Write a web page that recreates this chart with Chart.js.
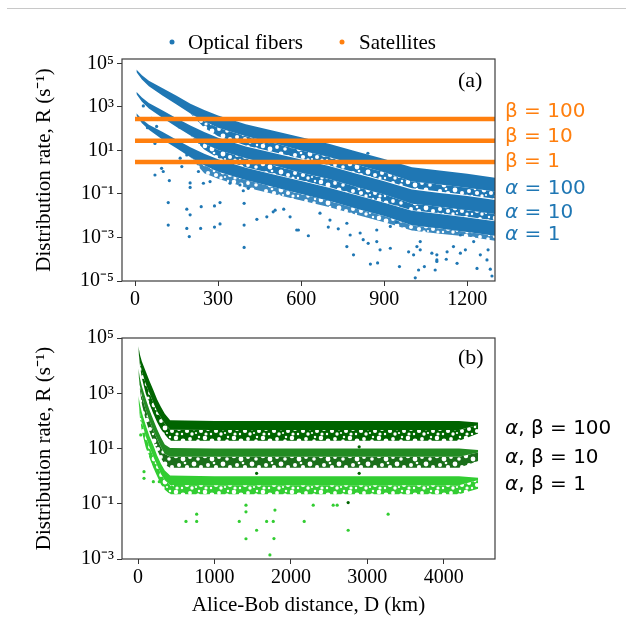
<!DOCTYPE html>
<html><head><meta charset="utf-8">
<script src="https://cdn.jsdelivr.net/npm/chart.js@4.4.1/dist/chart.umd.min.js"></script>
<style>
body{margin:0;background:#fff;}
#wrap{position:relative;width:626px;height:633px;overflow:hidden;background:#fff;}
canvas{position:absolute;left:0;}
.lab{position:absolute;font-family:"DejaVu Sans";font-size:20px;white-space:pre;line-height:24px;transform:translateY(-50%);}
.ser{position:absolute;font-family:"Liberation Serif";white-space:pre;line-height:26px;transform:translateY(-50%);color:#000;}
.dot{position:absolute;width:5px;height:5px;border-radius:50%;transform:translate(-50%,-50%);}
</style></head>
<body>
<div id="wrap">
  <div style="position:absolute;left:7px;top:8px;width:619px;height:1px;background:#c8c8c8"></div>
  <canvas id="ca" width="626" height="312" style="top:0"></canvas>
  <canvas id="cb" width="626" height="323" style="top:310px"></canvas>
  <!-- legend -->
  <div class="dot" style="left:172px;top:42px;background:#1f77b4"></div>
  <div class="ser" style="left:188px;top:42px;font-size:21px">Optical fibers</div>
  <div class="dot" style="left:342px;top:42px;background:#ff7f0e"></div>
  <div class="ser" style="left:359px;top:42px;font-size:21px">Satellites</div>
  <!-- panel tags -->
  <div class="ser" style="left:458px;top:80px;font-size:22px">(a)</div>
  <div class="ser" style="left:458px;top:357px;font-size:22px">(b)</div>
  <!-- right-hand series labels -->
  <div class="lab" style="left:505px;top:110px;color:#ff7f0e">β = 100</div>
  <div class="lab" style="left:505px;top:135px;color:#ff7f0e">β = 10</div>
  <div class="lab" style="left:505px;top:160px;color:#ff7f0e">β = 1</div>
  <div class="lab" style="left:505px;top:187px;color:#1f77b4"><i>α</i> = 100</div>
  <div class="lab" style="left:505px;top:211px;color:#1f77b4"><i>α</i> = 10</div>
  <div class="lab" style="left:505px;top:233px;color:#1f77b4"><i>α</i> = 1</div>
  <div class="lab" style="left:505px;top:427px;color:#000"><i>α</i>, β = 100</div>
  <div class="lab" style="left:505px;top:456px;color:#000"><i>α</i>, β = 10</div>
  <div class="lab" style="left:505px;top:483px;color:#000"><i>α</i>, β = 1</div>
</div>
<script>
// ---------------- Panel (a): optical fibers vs satellites ----------------
const fiberX        = [5, 25, 50, 100, 150, 200, 250, 300, 400, 500, 600, 700, 800, 900, 1000, 1100, 1200, 1300];
const alpha100Top   = [5.2e4, 2.8e4, 1.6e4, 7.1e3, 3.2e3, 1.4e3, 710, 400, 160, 79, 40, 20, 8.9, 4.0, 1.7, 1.2, 0.85, 0.56];
const alpha100Core  = [4.0e4, 1.8e4, 8.9e3, 3.2e3, 1.3e3, 500, 220, 110, 45, 22, 10, 5.0, 2.2, 1.0, 0.37, 0.27, 0.19, 0.13];
const alpha100Fringe= [4.0e4, 1.8e4, 8.9e3, 3.2e3, 1.3e3, 500, 110, 45, 17, 8.5, 4.2, 2.1, 0.95, 0.42, 0.18, 0.13, 0.09, 0.06];
const alpha10Top    = [5.0e3, 2.7e3, 1.5e3, 680, 300, 140, 70, 38, 15, 7.6, 3.8, 1.9, 0.85, 0.38, 0.16, 0.11, 0.08, 0.053];
const alpha10Core   = [3.9e3, 1.7e3, 850, 310, 120, 48, 21, 10.5, 4.3, 2.1, 0.95, 0.48, 0.21, 0.095, 0.035, 0.026, 0.018, 0.012];
const alpha10Fringe = [3.9e3, 1.7e3, 850, 310, 120, 48, 11, 4.5, 1.7, 0.85, 0.42, 0.21, 0.095, 0.042, 0.018, 0.013, 0.009, 0.006];
const alpha1Top     = [510, 270, 150, 70, 31, 14, 7.0, 3.9, 1.6, 0.78, 0.39, 0.19, 0.087, 0.039, 0.017, 0.012, 0.0083, 0.0055];
const alpha1Core    = [400, 175, 88, 31, 12.5, 4.9, 2.1, 1.05, 0.44, 0.21, 0.098, 0.049, 0.021, 0.0098, 0.0036, 0.0026, 0.0018, 0.0012];
const alpha1Fringe  = [400, 175, 88, 31, 12.5, 4.9, 0.9, 0.5, 0.2, 0.1, 0.05, 0.025, 0.011, 0.005, 0.0021, 0.0015, 0.0011, 0.0007];
// scattered fiber points outside the dense bands
const fiberOutX = [124, 120, 120, 187, 196, 187, 199, 239, 237, 287, 287, 307, 307, 394, 394, 394, 199, 199, 72, 96, 102, 169, 229, 247, 271, 343, 379, 391, 409,
  440, 499, 590, 626, 476, 506, 537, 560, 584, 668, 704, 698, 734, 765, 765, 777, 789, 813, 824, 842, 850, 873, 876, 885, 922, 945, 955,
  1012, 1018, 1024, 1030, 1045, 1072, 1084, 1090, 1124, 1163, 1175, 1193, 1235, 1271, 1275, 1283, 1289, 841,
  1006, 1090, 1090, 988, 1127, 1150, 1223, 1247, 873, 922, 1030, 1175,
  78, 72, 60, 160, 163, 187, 30, 45];
const fiberOutR = [0.41, 0.04, 0.0037, 0.0026, 0.0011, 0.02, 0.011, 0.026, 0.0026, 0.028, 0.003, 0.04, 0.0042, 3.5e-4, 0.0037, 0.037, 0.32, 0.2, 0.74, 1.5, 1.07, 1.8, 1.07, 0.31, 0.37, 0.31, 0.26, 0.14, 0.18,
  0.0068, 0.015, 0.0022, 0.0012, 0.0089, 0.018, 0.02, 0.0089, 0.0022, 0.013, 0.0063, 0.003, 0.0025, 0.0045, 3.8e-4, 0.0013, 1.6e-4, 0.0016, 7.9e-4, 5.4e-4, 6e-5, 0.0022, 6.8e-5, 2.7e-4, 0.0032, 0.005, 4.6e-5,
  1.4e-5, 3.8e-4, 3.2e-5, 2.7e-4, 4.6e-5, 1.9e-4, 3.2e-5, 9.3e-5, 1.0e-4, 6.5e-5, 1.9e-4, 2.7e-4, 3.8e-5, 9.3e-5, 2.7e-4, 3.5e-5, 1.7e-5, 7.4,
  1.6e-4, 1.6e-4, 7.9e-5, 2.2e-4, 2.2e-4, 3.8e-4, 6.5e-4, 1.6e-4, 6.5e-4, 3.2e-4, 6.5e-4, 0.0013,
  126, 21, 300, 120, 4.4, 6.2, 1.1e3, 110];
const satelliteX = [0, 650, 1300];
const beta100 = [280, 280, 280];
const beta10  = [28, 28, 28];
const beta1   = [2.9, 2.9, 2.9];
const xTicksA = [0, 300, 600, 900, 1200];
const yTicksA = [1e-5, 1e-3, 1e-1, 1e1, 1e3, 1e5];
const yLabelsA = ['10\u207B\u2075', '10\u207B\u00B3', '10\u207B\u00B9', '10\u00B9', '10\u00B3', '10\u2075'];

// ---------------- Panel (b): combined alpha, beta ----------------
const routeX      = [5, 25, 50, 100, 150, 200, 250, 300, 350, 420, 1000, 2000, 3000, 4000, 4200, 4450];
const ab100Top    = [5.0e4, 2.5e4, 1.4e4, 6.3e3, 2.8e3, 1.3e3, 600, 320, 180, 105, 100, 100, 100, 100, 100, 88];
const ab100Core   = [3.2e4, 1.3e4, 6.3e3, 2.2e3, 1.0e3, 450, 220, 130, 79, 48, 47, 47, 47, 47, 47, 72];
const ab100Fringe = [3.2e4, 1.0e4, 3.5e3, 1.0e3, 400, 180, 89, 50, 32, 19, 19, 19, 19, 19, 19, 35];
const ab10Top     = [7.9e3, 3.5e3, 1.8e3, 630, 250, 110, 50, 25, 14, 10.5, 10, 10, 10, 10, 10, 8.8];
const ab10Core    = [5.0e3, 1.8e3, 790, 250, 100, 45, 22, 11, 6.3, 5.0, 5.0, 5.0, 5.0, 5.0, 5.0, 7.2];
const ab10Fringe  = [5.0e3, 1.3e3, 400, 110, 40, 18, 8.9, 4.5, 2.6, 2.0, 2.0, 2.0, 2.0, 2.0, 2.0, 3.5];
const ab1Top      = [790, 400, 200, 71, 28, 13, 5.6, 2.8, 1.6, 1.05, 1.0, 1.0, 1.0, 1.0, 1.0, 0.88];
const ab1Core     = [500, 200, 89, 28, 11, 5.0, 2.4, 1.2, 0.71, 0.48, 0.47, 0.47, 0.47, 0.47, 0.47, 0.72];
const ab1Fringe   = [500, 126, 40, 11, 4.5, 2.0, 1.0, 0.5, 0.32, 0.22, 0.22, 0.22, 0.22, 0.22, 0.22, 0.35];
const ab1OutX = [627, 767, 767, 1324, 1412, 1412, 1412, 1551, 1682, 1725, 1769, 1791, 1778, 2174, 2292, 2553, 2605, 2749, 3272, 78, 78, 35, 200, 278, 440];
const ab1OutR = [0.023, 0.042, 0.023, 0.023, 0.089, 0.051, 0.0054, 0.011, 0.023, 0.0014, 0.023, 0.059, 0.0055, 0.023, 0.089, 0.089, 0.089, 0.011, 0.042, 0.83, 1.45, 31, 0.63, 0.63, 0.41];
const ab100OutX = [2893, 2749, 1551, 2893];
const ab100OutR = [11.5, 0.11, 1.26, 1.26];
const xTicksB = [0, 1000, 2000, 3000, 4000];
const yTicksB = [1e-3, 1e-1, 1e1, 1e3, 1e5];
const yLabelsB = ['10\u207B\u00B3', '10\u207B\u00B9', '10\u00B9', '10\u00B3', '10\u2075'];

// ---------------- helpers ----------------
const pts = (xs, ys) => xs.map((x, i) => ({x: x, y: ys[i]}));
// fixed speckle texture (style only): coloured tile with hand-placed white holes
const holes = [[2, 2, 2.2], [9, 5, 2.4], [5, 11, 2.0], [16, 3, 1.9], [20, 10, 2.4], [13, 13, 2.1],
               [24, 5, 1.8], [27, 13, 2.0], [3, 16, 1.6], [18, 16, 1.7], [11, 9, 1.3], [25, 1, 1.2], [8, 16, 1.2], [22, 15, 1.1]];
function speckle(color) {
  const t = document.createElement('canvas');
  t.width = 29; t.height = 18;
  const c = t.getContext('2d');
  c.fillStyle = color; c.fillRect(0, 0, t.width, t.height);
  c.fillStyle = '#ffffff';
  holes.forEach(([x, y, r]) => {
    [[0, 0], [29, 0], [-29, 0], [0, 18], [0, -18]].forEach(([dx, dy]) => {
      c.beginPath(); c.arc(x + dx, y + dy, r, 0, Math.PI * 2); c.fill();
    });
  });
  return c.createPattern(t, 'repeat');
}
function band(xs, top, core, fringe, color, semi, order) {
  const base = {type: 'line', borderColor: 'transparent', borderWidth: 1, pointRadius: 0, tension: 0, order: order};
  return [
    Object.assign({}, base, {data: pts(xs, top), backgroundColor: color, fill: false}),
    Object.assign({}, base, {data: pts(xs, core), backgroundColor: color, fill: '-1'}),
    Object.assign({}, base, {data: pts(xs, fringe), backgroundColor: semi, fill: '-1'})
  ];
}
function dots(xs, ys, color, order) {
  return {type: 'line', showLine: false, data: pts(xs, ys), backgroundColor: color, borderColor: color,
          borderWidth: 0, pointRadius: 1.6, pointHoverRadius: 0, order: order};
}
function hline(xs, ys, color) {
  return {type: 'line', data: pts(xs, ys), borderColor: color, borderWidth: 4.5, pointRadius: 0, fill: false, order: 0};
}
const frame = {
  id: 'frame',
  afterDraw(chart) {
    const {ctx, chartArea: a} = chart;
    ctx.save();
    ctx.strokeStyle = '#3c3c3c';
    ctx.lineWidth = 1.2;
    ctx.strokeRect(a.left, a.top, a.right - a.left, a.bottom - a.top);
    ctx.restore();
  }
};
const serif = 'Liberation Serif';
function opts(c) {
  const axisCommon = {
    grid: {drawOnChartArea: false, drawTicks: true, tickLength: 5, color: '#333', lineWidth: 1},
    border: {display: false}
  };
  return {
    responsive: false, animation: false, events: [],
    layout: {padding: {top: c.padTop, right: 131, left: 0, bottom: 0}},
    plugins: {legend: {display: false}, tooltip: {enabled: false}},
    scales: {
      x: Object.assign({}, axisCommon, {
        type: 'linear', min: c.xmin, max: c.xmax,
        afterBuildTicks: s => { s.ticks = c.xticks.map(v => ({value: v})); },
        afterFit: s => { s.height = c.xh; },
        ticks: {color: '#000', font: {family: serif, size: 20}, padding: 2, maxRotation: 0, autoSkip: false,
                callback: (v, i) => String(c.xticks[i])},
        title: c.xtitle ? {display: true, text: c.xtitle, color: '#000', font: {family: serif, size: 21},
                           padding: {top: 0, bottom: 15}} : {display: false}
      }),
      y: Object.assign({}, axisCommon, {
        type: 'logarithmic', min: c.ymin, max: c.ymax,
        afterBuildTicks: s => { s.ticks = c.yticks.map(v => ({value: v})); },
        afterFit: s => { s.width = 122; },
        ticks: {color: '#000', font: {family: serif, size: 20}, padding: 3, autoSkip: false,
                callback: (v, i) => c.ylabels[i]},
        title: {display: true, text: 'Distribution rate, R (s\u207B\u00B9)', color: '#000',
                font: {family: serif, size: 21}, padding: {top: 32, bottom: 0}}
      })
    }
  };
}

const blue = '#1f77b4';
new Chart(document.getElementById('ca'), {
  type: 'line',
  data: {datasets: [
    hline(satelliteX, beta100, '#ff7f0e'),
    hline(satelliteX, beta10, '#ff7f0e'),
    hline(satelliteX, beta1, '#ff7f0e'),
    dots(fiberOutX, fiberOutR, blue, 1),
    ...band(fiberX, alpha100Top, alpha100Core, alpha100Fringe, blue, speckle(blue), 3),
    ...band(fiberX, alpha10Top, alpha10Core, alpha10Fringe, blue, speckle(blue), 4),
    ...band(fiberX, alpha1Top, alpha1Core, alpha1Fringe, blue, speckle('#3c89bf'), 5)
  ]},
  options: opts({padTop: 59, xmin: -47, xmax: 1300, ymin: 1e-5, ymax: 1.58e5, xh: 31,
                 xticks: xTicksA, yticks: yTicksA, ylabels: yLabelsA}),
  plugins: [frame]
});

const g100 = '#006400', g10 = '#228b22', g1 = '#32cd32';
new Chart(document.getElementById('cb'), {
  type: 'line',
  data: {datasets: [
    dots(ab100OutX, ab100OutR, g100, 1),
    dots(ab1OutX, ab1OutR, g1, 1),
    ...band(routeX, ab1Top, ab1Core, ab1Fringe, g1, speckle(g1), 3),
    ...band(routeX, ab10Top, ab10Core, ab10Fringe, g10, speckle('#1a6e1a'), 4),
    ...band(routeX, ab100Top, ab100Core, ab100Fringe, g100, speckle(g100), 5)
  ]},
  options: opts({padTop: 28, xmin: -210, xmax: 4670, ymin: 1e-3, ymax: 1e5, xh: 74,
                 xticks: xTicksB, yticks: yTicksB, ylabels: yLabelsB,
                 xtitle: 'Alice-Bob distance, D (km)'}),
  plugins: [frame]
});
</script>
</body></html>
